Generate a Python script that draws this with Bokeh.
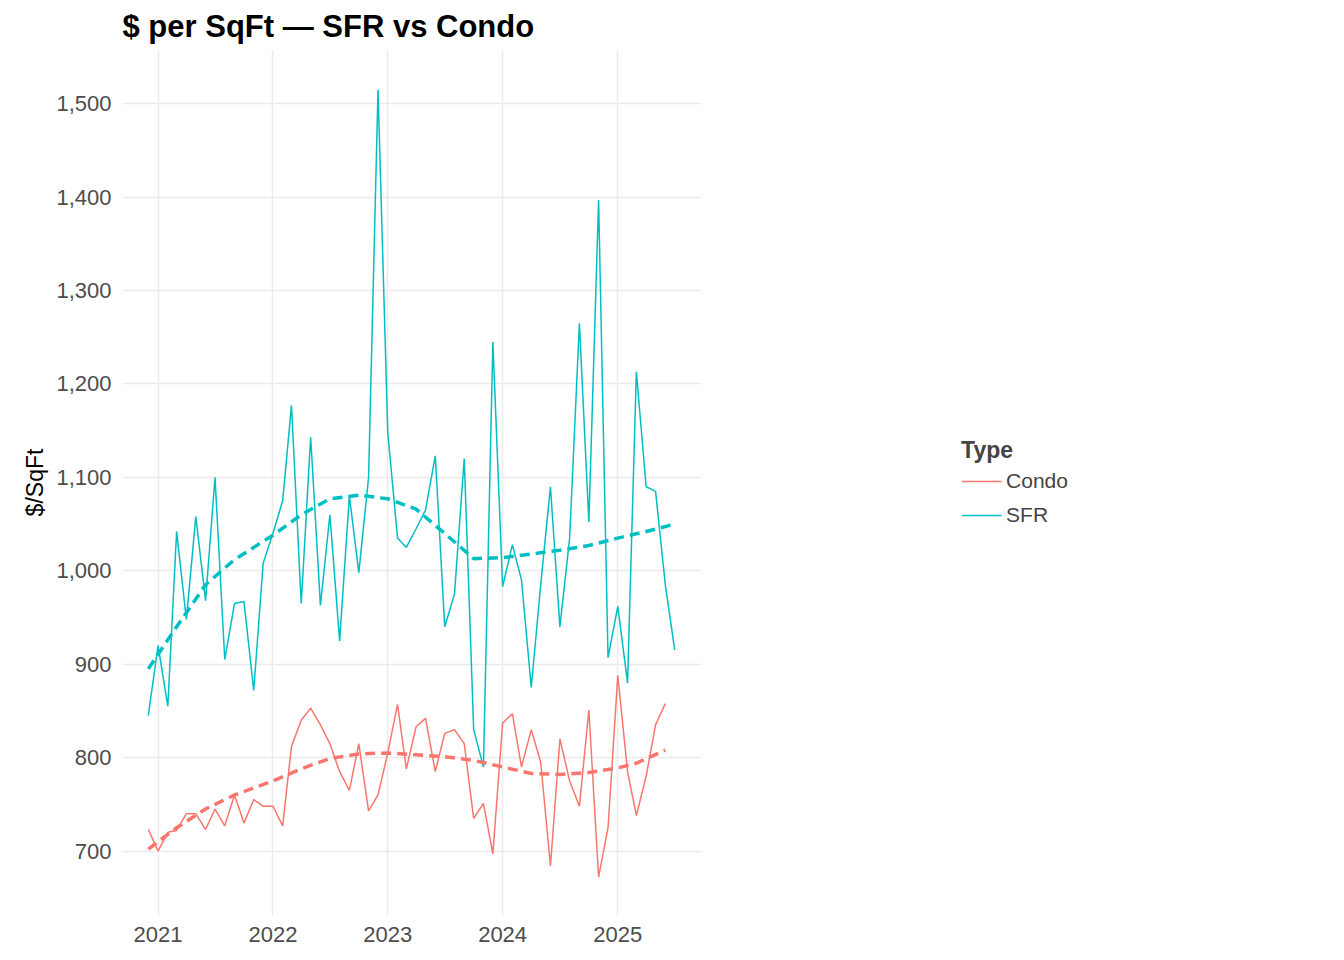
import pandas as pd
from bokeh.plotting import figure
from bokeh.models import Legend, LegendItem, NumeralTickFormatter, DatetimeTickFormatter, YearsTicker, Range1d
from bokeh.embed import file_html
from bokeh.resources import INLINE

months_sfr = pd.date_range("2020-12-01", "2025-07-01", freq="MS")
months_condo = pd.date_range("2020-12-01", "2025-06-01", freq="MS")
sfr = [845, 920, 855, 1042, 948, 1058, 968, 1100, 905, 965, 967, 872, 1008, 1040, 1075, 1177,
       965, 1143, 963, 1060, 925, 1080, 998, 1100, 1515, 1148, 1035, 1025, 1045, 1065, 1123, 940,
       975, 1120, 830, 790, 1245, 983, 1028, 990, 875, 985, 1090, 940, 1035, 1265, 1052, 1397,
       907, 962, 880, 1213, 1090, 1085, 985, 915]
condo = [723, 700, 720, 722, 740, 740, 723, 745, 727, 760, 730, 755, 748, 748, 727, 812,
         840, 853, 835, 815, 785, 765, 815, 743, 760, 805, 857, 788, 833, 842, 785, 826,
         830, 815, 735, 751, 697, 837, 847, 790, 830, 795, 684, 820, 775, 748, 851, 672,
         725, 888, 785, 738, 780, 835, 858]
trend_sfr_dates = pd.to_datetime(["2020-12-01", "2021-03-01", "2021-06-01", "2021-09-01", "2022-01-01", "2022-04-01",
                                  "2022-07-01", "2022-10-01", "2023-01-01", "2023-04-01", "2023-07-01", "2023-10-01",
                                  "2024-01-01", "2024-04-01", "2024-07-01", "2024-10-01", "2025-01-01", "2025-04-01", "2025-07-01"])
trend_sfr = [895, 940, 985, 1012, 1038, 1060, 1077, 1081, 1077, 1066, 1040, 1013, 1014, 1018, 1022, 1027, 1035, 1042, 1050]
trend_condo_dates = pd.to_datetime(["2020-12-01", "2021-03-01", "2021-06-01", "2021-09-01", "2022-01-01", "2022-04-01",
                                    "2022-07-01", "2022-10-01", "2023-01-01", "2023-04-01", "2023-07-01", "2023-10-01",
                                    "2024-01-01", "2024-04-01", "2024-07-01", "2024-10-01", "2025-01-01", "2025-03-01", "2025-06-01"])
trend_condo = [702, 725, 745, 760, 775, 788, 799, 804, 805, 803, 801, 797, 790, 783, 782, 784, 789, 794, 808]

C_CONDO = "#F8766D"
C_SFR = "#00BFC4"

p = figure(output_backend="svg", toolbar_location=None, x_axis_type="datetime",
           width=1328, height=944, min_border_left=122, min_border_right=0,
           min_border_top=8, min_border_bottom=14,
           x_range=Range1d(pd.Timestamp("2020-09-10"), pd.Timestamp("2025-09-24")),
           y_range=Range1d(631, 1558))
p.outline_line_color = None
p.background_fill_color = "white"
p.border_fill_color = "white"
p.title.text = "$ per SqFt — SFR vs Condo"
p.title.text_font = "Liberation Sans"
p.title.text_font_size = "31px"
p.title.text_font_style = "bold"
p.title.text_color = "black"
p.title.offset = 0
p.title.standoff = 12

r_c = p.line(months_condo, condo, line_color=C_CONDO, line_width=1.5)
r_s = p.line(months_sfr, sfr, line_color=C_SFR, line_width=1.5)
p.line(trend_condo_dates, trend_condo, line_color=C_CONDO, line_width=3.5, line_dash="10 6")
p.line(trend_sfr_dates, trend_sfr, line_color=C_SFR, line_width=3.5, line_dash="10 6")

for ax in (p.xaxis[0], p.yaxis[0]):
    ax.axis_line_color = None
    ax.major_tick_line_color = None
    ax.minor_tick_line_color = None
    ax.major_label_text_font = "Liberation Sans"
    ax.major_label_text_font_size = "22px"
    ax.major_label_text_color = "#4D4D4D"
p.xaxis.ticker = YearsTicker()
p.xaxis.formatter = DatetimeTickFormatter(years="%Y", months="%Y")
p.yaxis.ticker = [700, 800, 900, 1000, 1100, 1200, 1300, 1400, 1500]
p.yaxis.formatter = NumeralTickFormatter(format="0,0")
p.yaxis.axis_label = "$/SqFt"
p.yaxis.axis_label_text_font = "Liberation Sans"
p.yaxis.axis_label_text_font_size = "23px"
p.yaxis.axis_label_text_font_style = "normal"
p.yaxis.axis_label_text_color = "black"
p.xgrid.grid_line_color = "#EBEBEB"
p.ygrid.grid_line_color = "#EBEBEB"
p.xgrid.grid_line_width = 1.5
p.ygrid.grid_line_width = 1.5

legend = Legend(items=[LegendItem(label="Condo", renderers=[r_c]), LegendItem(label="SFR", renderers=[r_s])],
                title="Type", title_text_font="Liberation Sans", title_text_font_size="23px",
                title_text_font_style="bold", label_text_font="Liberation Sans", label_text_font_size="21px",
                border_line_color=None, background_fill_alpha=0, glyph_width=40, spacing=10,
                location="center", margin=30, padding=8)
p.add_layout(legend, "right")

open("out.html", "w").write(file_html(p, INLINE))
